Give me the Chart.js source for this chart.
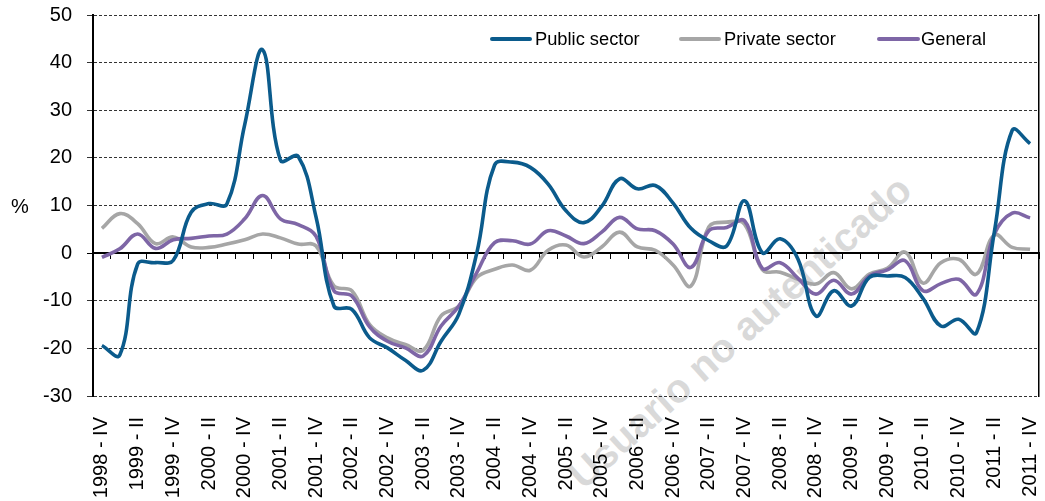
<!DOCTYPE html>
<html>
<head>
<meta charset="utf-8">
<title>Public / private sector</title>
<script src="https://cdn.jsdelivr.net/npm/chart.js@4.4.1/dist/chart.umd.min.js"></script>
<style>
  html, body { margin: 0; padding: 0; background: #fff; }
  #wrap {
    position: relative; width: 1045px; height: 501px; overflow: hidden;
    font-family: "Liberation Sans", Arial, sans-serif; color: #000;
  }
  #chart { position: absolute; left: 0; top: 0; }
  #mark {
    position: absolute; left: 740px; top: 332px;
    transform: translate(-50%, -50%) rotate(-42deg);
    font-size: 40px; font-weight: bold; color: #d9d9d9; white-space: nowrap;
  }
  #unit { position: absolute; left: 11px; top: 195px; font-size: 20px; }
  .key-line { position: absolute; height: 4px; border-radius: 2px; }
  .key-text { position: absolute; font-size: 18.3px; line-height: 20px; white-space: nowrap; }
</style>
</head>
<body>
<div id="wrap">
  <div id="mark">Usuario no autenticado</div>
  <canvas id="chart" width="1045" height="501"></canvas>
  <div id="unit">%</div>
  <div id="legend"></div>
</div>
<script>
// trimestres 1998-IV .. 2011-IV
const quarters = [
  '1998 - IV',
  '1999 - I', '1999 - II', '1999 - III', '1999 - IV',
  '2000 - I', '2000 - II', '2000 - III', '2000 - IV',
  '2001 - I', '2001 - II', '2001 - III', '2001 - IV',
  '2002 - I', '2002 - II', '2002 - III', '2002 - IV',
  '2003 - I', '2003 - II', '2003 - III', '2003 - IV',
  '2004 - I', '2004 - II', '2004 - III', '2004 - IV',
  '2005 - I', '2005 - II', '2005 - III', '2005 - IV',
  '2006 - I', '2006 - II', '2006 - III', '2006 - IV',
  '2007 - I', '2007 - II', '2007 - III', '2007 - IV',
  '2008 - I', '2008 - II', '2008 - III', '2008 - IV',
  '2009 - I', '2009 - II', '2009 - III', '2009 - IV',
  '2010 - I', '2010 - II', '2010 - III', '2010 - IV',
  '2011 - I', '2011 - II', '2011 - III', '2011 - IV'
];

const publicSector = [
  -19.4, -21.4, -2.3, -2.0, -1.5, 8.6, 10.4, 10.3, 27.0,
  42.7, 19.5, 20.3, 7.5, -11.1, -11.8, -17.8, -19.9,
  -22.5, -24.6, -18.5, -12.8, 0.0, 18.5, 19.1, 18.0,
  14.5, 8.9, 6.4, 9.8, 15.6, 13.5, 14.2, 10.5,
  5.2, 2.6, 1.5, 11.0, 0.1, 3.0, -1.3, -13.2,
  -7.9, -11.1, -5.1, -4.8, -5.1, -9.5, -15.3, -13.9,
  -16.7, 4.5, 25.8, 23.0
];

const privateSector = [
  5.2, 8.3, 6.2, 2.0, 3.4, 1.3, 1.2, 1.9, 2.8,
  4.0, 3.2, 1.9, 1.5, -6.9, -7.9, -15.0, -17.8,
  -19.2, -20.4, -13.2, -11.1, -5.1, -3.4, -2.5, -3.6,
  0.6, 1.7, -0.8, 1.3, 4.4, 1.3, 0.6, -2.5,
  -6.9, 5.5, 6.5, 6.1, -3.5, -4.0, -5.5, -6.5,
  -4.1, -7.5, -4.4, -3.2, 0.2, -6.3, -2.0, -1.3,
  -4.4, 3.8, 1.2, 0.8
];

const general = [
  -0.9, 0.9, 4.0, 1.0, 2.8, 3.1, 3.6, 4.0, 7.2,
  12.1, 7.2, 6.0, 3.5, -7.9, -9.0, -15.5, -18.5,
  -19.9, -21.6, -15.3, -11.1, -4.1, 2.2, 2.6, 1.9,
  4.7, 3.6, 2.0, 4.4, 7.5, 5.1, 4.7, 1.9,
  -3.0, 4.7, 5.4, 6.8, -3.2, -2.0, -5.3, -8.6,
  -5.7, -8.6, -4.8, -3.5, -1.6, -7.9, -6.4, -5.5,
  -8.6, 4.0, 8.4, 7.4
];

const seriesNames = ['Public sector', 'Private sector', 'General'];
const seriesColors = ['#0b5b8c', '#a6a6a6', '#7e66a6'];

const FONT = '"Liberation Sans", Arial, sans-serif';

function lineSet(i, data, order) {
  return {
    label: seriesNames[i],
    data: data,
    borderColor: seriesColors[i],
    backgroundColor: seriesColors[i],
    borderWidth: 3.6,
    pointRadius: 0,
    tension: 0.4,
    fill: false,
    order: order,
    xAxisID: 'x',
    yAxisID: 'y'
  };
}

// los ejes no deben empujar el área del gráfico
function noPad(s) {
  s.paddingLeft = 0; s.paddingRight = 0; s.paddingTop = 0; s.paddingBottom = 0;
}

new Chart(document.getElementById('chart'), {
  type: 'line',
  data: {
    labels: quarters,
    datasets: [
      lineSet(0, publicSector, 0),
      lineSet(1, privateSector, 2),
      lineSet(2, general, 1)
    ]
  },
  options: {
    responsive: false,
    animation: false,
    devicePixelRatio: 1,
    layout: { padding: { top: 15, left: 0, right: 0, bottom: 0 } },
    plugins: { legend: { display: false }, tooltip: { enabled: false } },
    scales: {
      // etiquetas verticales abajo, una de cada dos
      x: {
        type: 'category',
        position: 'bottom',
        offset: true,
        grid: { display: false, drawTicks: false },
        border: { display: false },
        ticks: {
          autoSkip: false,
          maxRotation: 90,
          minRotation: 90,
          padding: 21,
          color: '#000',
          font: { family: FONT, size: 20 },
          callback: function (v, i) { return i % 2 === 0 ? this.getLabelForValue(v) : ''; }
        },
        afterFit: s => { s.height = 105; noPad(s); }
      },
      // eje en el cero con marcas entre trimestres
      xZero: {
        type: 'category',
        axis: 'x',
        position: { y: 0 },
        offset: true,
        grid: { offset: true, drawOnChartArea: false, drawTicks: true, tickLength: 5, tickColor: '#000', tickWidth: 1, lineWidth: 1 },
        border: { display: true, color: '#000', width: 2 },
        ticks: { display: false },
        afterFit: noPad
      },
      y: {
        min: -30,
        max: 50,
        ticks: { stepSize: 10, padding: 15, color: '#000', font: { family: FONT, size: 20 } },
        grid: {
          color: c => (c.tick && c.tick.value === 0) ? '#000' : '#333',
          lineWidth: 1,
          tickLength: 6
        },
        border: {
          display: true, color: '#000', width: 2,
          dash: c => (c.tick && c.tick.value !== 0) ? [3, 2] : []
        },
        afterFit: s => { s.width = 93; noPad(s); }
      },
      yRight: {
        axis: 'y',
        position: 'right',
        min: -30,
        max: 50,
        grid: { display: false, drawTicks: false },
        ticks: { display: false },
        border: { display: true, color: '#000', width: 1.5 },
        afterFit: s => { s.width = 6; noPad(s); }
      }
    }
  }
});

// leyenda dentro del área del gráfico
const legendPos = [
  { line: 490, len: 42, text: 535 },
  { line: 679, len: 42, text: 724 },
  { line: 877, len: 43, text: 921 }
];
const legend = document.getElementById('legend');
seriesNames.forEach((name, i) => {
  const ln = document.createElement('div');
  ln.className = 'key-line';
  ln.style.left = legendPos[i].line + 'px';
  ln.style.top = '37px';
  ln.style.width = legendPos[i].len + 'px';
  ln.style.background = seriesColors[i];
  legend.appendChild(ln);
  const tx = document.createElement('div');
  tx.className = 'key-text';
  tx.style.left = legendPos[i].text + 'px';
  tx.style.top = '29px';
  tx.textContent = name;
  legend.appendChild(tx);
});
</script>
</body>
</html>
